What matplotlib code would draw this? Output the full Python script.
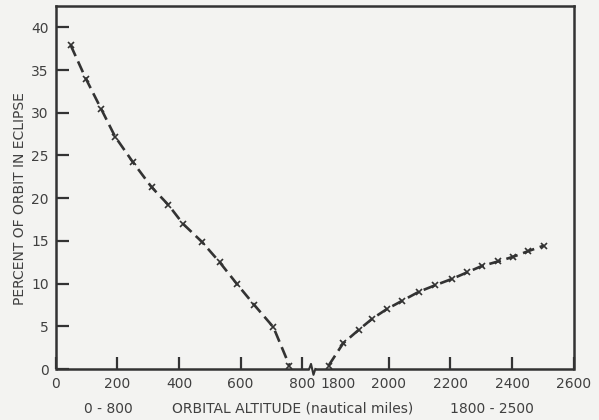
import numpy as np
import matplotlib
matplotlib.use("Agg")
import matplotlib.pyplot as plt

# ---- data ----
low_alt = [49, 98, 147, 193, 251, 311, 366, 413, 474, 532, 589, 644, 706, 758]
low_pct = [37.9, 34.0, 30.5, 27.2, 24.2, 21.3, 19.2, 17.0, 14.9, 12.5, 9.9, 7.5, 4.9, 0.4]
high_alt = [1805, 1852, 1903, 1947, 1993, 2044, 2098, 2150, 2205, 2253, 2301, 2355, 2404, 2452, 2503]
high_pct = [0.4, 3.0, 4.6, 5.9, 7.0, 8.0, 9.05, 9.8, 10.55, 11.3, 12.05, 12.6, 13.15, 13.8, 14.45]
x_ticks = [0, 200, 400, 600, 800, 2000, 2200, 2400, 2600]
y_ticks = [0, 5, 10, 15, 20, 25, 30, 35, 40]

BG = "#f3f3f1"
INK = "#333333"
TXT = "#404040"

# broken-axis scale: 0-800 linear, 800-1800 compressed, 1800+ shifted
def fwd(x):
    x = np.asarray(x, dtype=float)
    return np.where(x <= 800, x, np.where(x < 1800, 800 + (x - 800) * 0.08, x - 920))

def inv(p):
    p = np.asarray(p, dtype=float)
    return np.where(p <= 800, p, np.where(p < 880, 800 + (p - 800) / 0.08, p + 920))

plt.rcParams['font.family'] = ['DejaVu Sans']
fig = plt.figure(figsize=(5.99, 4.20), dpi=100, facecolor=BG)
ax = fig.add_axes([0.0928, 0.1214, 0.958 - 0.0928, 0.9857 - 0.1214], facecolor=BG)
ax.set_xscale('function', functions=(fwd, inv))
ax.set_xlim(0, 2600)
ax.set_ylim(0, 42.5)

style = dict(color=INK, lw=1.9, linestyle=(0, (4.5, 2.2)), marker='x', ms=4.5, mew=1.2)
ax.plot(low_alt, low_pct, **style)
ax.plot(high_alt, high_pct, **style)

ax.set_xticks(x_ticks)
ax.set_xticklabels([str(v) for v in x_ticks])
ax.set_yticks(y_ticks)
ax.set_yticklabels([str(v) for v in y_ticks])
ax.xaxis.set_minor_locator(matplotlib.ticker.NullLocator())
ax.tick_params(axis='both', direction='in', length=9, width=1.6, color=INK,
               labelcolor=TXT, labelsize=10, pad=5)
ax.tick_params(axis='x', pad=6)

for s in ['top', 'right', 'left']:
    ax.spines[s].set_linewidth(1.8)
    ax.spines[s].set_color(INK)
ax.spines['bottom'].set_visible(False)

# bottom spine with break symbol
trans = ax.get_xaxis_transform()
p_break = fwd(1200)
bx0 = float(inv(p_break - 10))
bx1 = float(inv(p_break + 10))
ax.plot([0, bx0], [0, 0], color=INK, lw=1.8, transform=trans, clip_on=False, solid_capstyle='butt')
ax.plot([bx1, 2600], [0, 0], color=INK, lw=1.8, transform=trans, clip_on=False, solid_capstyle='butt')
zx = [bx0, float(inv(p_break - 4)), float(inv(p_break + 4)), bx1]
ax.plot(zx, [0, 0.014, -0.016, 0], color=INK, lw=1.5, transform=trans, clip_on=False)

# "1800" label (offset right of the break, as in the original)
ax.text(float(inv(fwd(1800) + 35)), -0.023, "1800", transform=trans, ha='center', va='top',
        fontsize=10, color=TXT)

ax.set_ylabel("PERCENT OF ORBIT IN ECLIPSE", fontsize=10, color=TXT)
ax.yaxis.set_label_coords(-0.056, 0.47)

fig.text(108 / 599, 1 - 409 / 420, "0 - 800", ha='center', va='center', fontsize=10, color=TXT)
fig.text(293 / 599, 1 - 409 / 420, "ORBITAL ALTITUDE (nautical miles)", ha='center', va='center',
         fontsize=10, color=TXT)
fig.text(492 / 599, 1 - 409 / 420, "1800 - 2500", ha='center', va='center', fontsize=10, color=TXT)

fig.savefig("out.png", dpi=100, facecolor=BG)
